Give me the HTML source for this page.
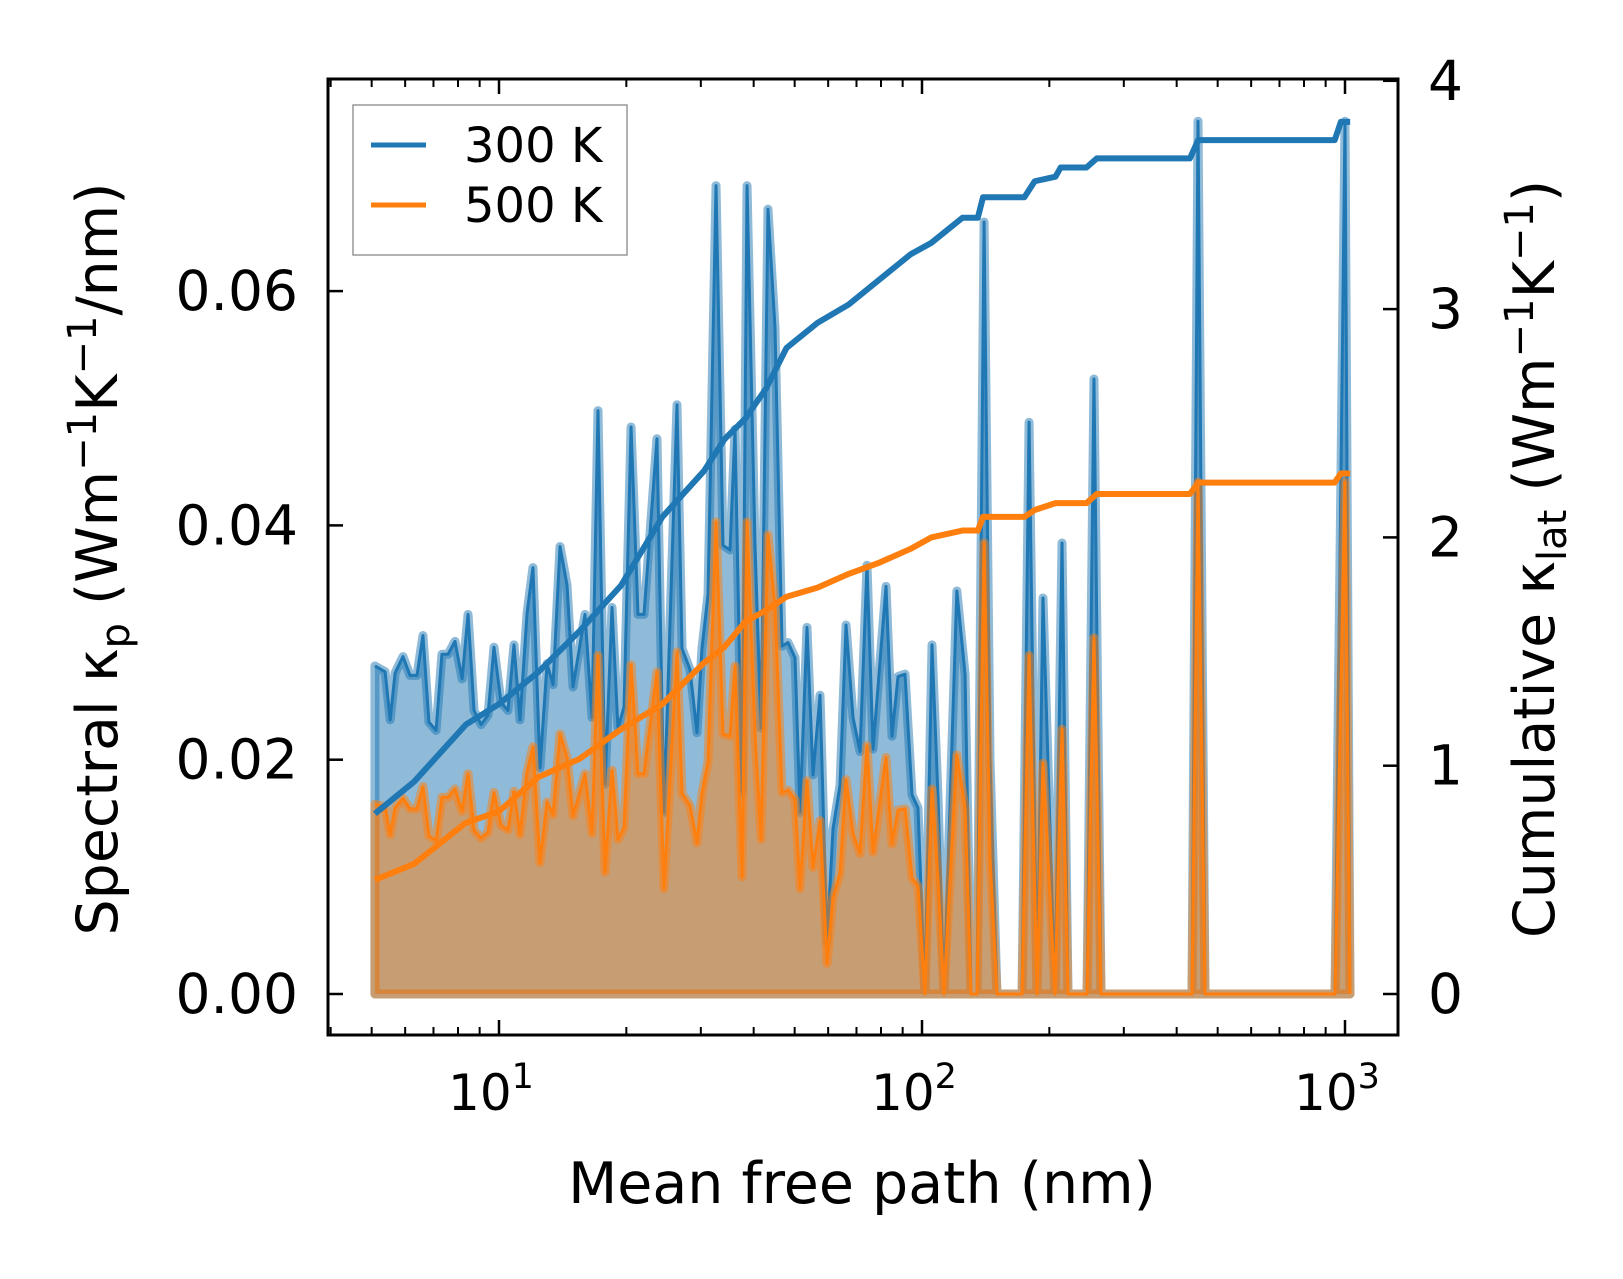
<!DOCTYPE html>
<html><head><meta charset="utf-8"><style>
body{margin:0;background:#fff;}
svg text{font-family:"DejaVu Sans","Liberation Sans",sans-serif;fill:#000;}
</style></head><body>
<svg id="chart" width="1623" height="1274" viewBox="0 0 1623 1274" xmlns="http://www.w3.org/2000/svg">
<g id="marks"></g>
<g id="axes"></g>
<g id="legend">
 <rect x="353" y="105" width="274" height="150" fill="#fff" fill-opacity="0.8" stroke="#999" stroke-width="1.5"/>
 <line x1="371" y1="145" x2="426" y2="145" stroke="#1f77b4" stroke-width="5"/>
 <text x="464" y="162" font-size="48">300 K</text>
 <line x1="371" y1="205" x2="426" y2="205" stroke="#ff7f0e" stroke-width="5"/>
 <text x="464" y="222" font-size="48">500 K</text>
</g>
<text x="862" y="1203" font-size="57" text-anchor="middle">Mean free path (nm)</text>
<text transform="translate(117,559) rotate(-90)" font-size="57" text-anchor="middle">Spectral κ<tspan font-size="40" dy="12">p</tspan><tspan dy="-12"> (Wm</tspan><tspan font-size="40" dy="-21">−1</tspan><tspan dy="21">K</tspan><tspan font-size="40" dy="-21">−1</tspan><tspan dy="21">/nm)</tspan></text>
<text transform="translate(1554,559) rotate(-90)" font-size="57" text-anchor="middle">Cumulative κ<tspan font-size="40" dy="12">lat</tspan><tspan dy="-12"> (Wm</tspan><tspan font-size="40" dy="-21">−1</tspan><tspan dy="21">K</tspan><tspan font-size="40" dy="-21">−1</tspan><tspan dy="21">)</tspan></text>
</svg>
<script>
const mfp = [5.09,5.38,5.53,5.68,5.93,6.16,6.40,6.61,6.83,7.10,7.33,7.58,7.87,8.18,8.45,8.73,9.07,9.42,9.73,10.11,10.50,10.85,11.21,11.65,12.03,12.50,12.99,13.42,13.94,14.48,14.96,15.97,16.59,17.14,17.81,18.50,19.11,19.75,20.52,21.31,22.02,23.63,24.55,26.35,27.08,28.28,29.38,30.19,31.20,32.59,33.85,35.17,36.14,37.54,38.58,40.29,41.64,43.24,44.92,46.67,48.22,50.10,51.48,53.47,55.25,57.40,59.63,61.61,64.00,66.13,68.70,71.36,74.13,76.61,82.21,84.94,87.77,91.17,94.71,97.84,101.6,105.6,109.1,112.7,120.9,126.4,130.6,134.9,140.2,144.8,150.4,172.4,179.1,187.1,193.2,206.3,214.3,221.4,245.5,255.0,265.0,434.8,449.3,466.7,947.1,1000,1027.6];
const spec300 = [.0280,.0275,.0234,.0274,.0288,.0272,.0272,.0306,.0232,.0225,.0290,.0290,.0301,.0269,.0324,.0242,.0230,.0238,.0296,.0249,.0242,.0298,.0234,.0325,.0364,.0193,.0282,.0264,.0382,.0349,.0262,.0324,.0236,.0498,.0179,.0330,.0227,.0245,.0484,.0324,.0324,.0474,.0155,.0503,.0295,.0277,.0223,.0295,.0341,.0690,.0383,.0379,.0482,.0172,.0690,.0383,.0227,.0670,.0569,.0297,.0300,.0287,.0155,.0313,.0187,.0255,.0044,.0141,.0178,.0315,.0236,.0207,.0366,.0209,.0348,.0220,.0271,.0273,.0170,.0159,0,.0298,.0168,0,.0344,.0273,0,0,.0659,.0200,0,0,.0488,0,.0338,0,.0385,0,0,.0525,0,0,.0745,0,0,.0745,0];
const spec500 = [.0162,.0160,.0136,.0159,.0167,.0158,.0158,.0177,.0135,.0131,.0168,.0168,.0175,.0156,.0188,.0140,.0133,.0138,.0172,.0144,.0140,.0173,.0136,.0189,.0211,.0112,.0164,.0153,.0222,.0202,.0152,.0188,.0137,.0289,.0104,.0191,.0132,.0142,.0281,.0188,.0188,.0275,.0090,.0292,.0171,.0161,.0129,.0171,.0198,.0403,.0222,.0220,.0280,.0100,.0403,.0222,.0132,.0392,.0330,.0172,.0174,.0166,.0090,.0182,.0108,.0148,.0026,.0082,.0103,.0183,.0137,.0120,.0212,.0121,.0202,.0128,.0157,.0158,.0099,.0092,0,.0175,.0097,0,.0204,.0158,0,0,.0385,.0116,0,0,.0289,0,.0197,0,.0226,0,0,.0304,0,0,.0437,0,0,.0437,0];
const cumMfp = [5.09,6.30,8.35,10,12.38,15.51,19.44,24.34,30.49,34.12,38.19,42.73,47.83,56.63,67.07,79.38,94.0,105.2,124.6,135.5,139.4,174.6,184.7,206.8,212.7,244.8,259.0,429.9,449.6,945.4,977.7,1028.5];
const cum300 = [0.79,0.93,1.18,1.27,1.41,1.59,1.79,2.09,2.29,2.43,2.52,2.65,2.83,2.94,3.02,3.13,3.24,3.29,3.40,3.40,3.49,3.49,3.56,3.58,3.62,3.62,3.66,3.66,3.74,3.74,3.82,3.82];
const cum500 = [0.50,0.57,0.75,0.80,0.95,1.03,1.16,1.27,1.45,1.52,1.63,1.68,1.74,1.78,1.84,1.89,1.95,2.00,2.03,2.03,2.09,2.09,2.12,2.15,2.15,2.15,2.19,2.19,2.24,2.24,2.28,2.28];
const leftTicks = [0, 0.02, 0.04, 0.06];
const leftTickLabels = ["0.00","0.02","0.04","0.06"];
const rightTicks = [0,1,2,3,4];
const xMajor = [10,100,1000];

const L=328,R=1398,T=79,B=1035;
const xs = v => 499 + 423*(Math.log10(v)-1);
const yl = v => 994 - v/0.02*234.3;
const yr = v => 994 - v*228.3;
const NS="http://www.w3.org/2000/svg";
function mk(tag, attrs, parent){const e=document.createElementNS(NS,tag);for(const k in attrs)e.setAttribute(k,attrs[k]);parent.appendChild(e);return e;}
const marks=document.getElementById('marks'), axes=document.getElementById('axes');

function area(vals,color,name){
  let d=`M${xs(mfp[0])},${yl(0)}`;
  mfp.forEach((m,i)=>{d+=`L${xs(m)},${yl(vals[i])}`;});
  d+=`L${xs(mfp[mfp.length-1])},${yl(0)}Z`;
  const p=mk('path',{d:d,fill:color,'fill-opacity':0.5,stroke:color,'stroke-opacity':0.5,'stroke-width':9,'stroke-linejoin':'round'},marks);
  
  
  const ln=mk('polyline',{points:mfp.map((m,i)=>xs(m)+','+yl(vals[i])).join(' '),fill:'none',stroke:color,'stroke-width':3,'stroke-linejoin':'round'},marks);
  
  
}
area(spec300,'#1f77b4','spectral-300k');
area(spec500,'#ff7f0e','spectral-500k');
function cum(vals,color,name){
  const ln=mk('polyline',{points:cumMfp.map((m,i)=>xs(m)+','+yr(vals[i])).join(' '),fill:'none',stroke:color,'stroke-width':6,'stroke-linejoin':'round'},marks);
  
  
}
cum(cum300,'#1f77b4','cumulative-300k');
cum(cum500,'#ff7f0e','cumulative-500k');

const fr=mk('rect',{x:L,y:T,width:R-L,height:B-T,fill:'none',stroke:'#000','stroke-width':3},axes);


leftTicks.forEach((v,i)=>{
  const y=yl(v);
  const t=mk('line',{x1:L,y1:y,x2:L+15,y2:y,stroke:'#000','stroke-width':2.5},axes);
  
  
  const tx=mk('text',{x:L-30,y:y+19,'font-size':55,'text-anchor':'end'},axes);
  tx.textContent=leftTickLabels[i];
  
  
});
rightTicks.forEach(v=>{
  const y=yr(v);
  const t=mk('line',{x1:R-15,y1:y,x2:R,y2:y,stroke:'#000','stroke-width':2.5},axes);
  
  
  const tx=mk('text',{x:R+30,y:y+19,'font-size':55},axes);
  tx.textContent=String(v);
  
  
});
for(let dec=1;dec<=1000;dec*=10){
  for(let k=1;k<10;k++){
    const v=dec*k; const x=xs(v);
    if(x<L+2||x>R-2) continue;
    const len=k===1?15:8;
    [[B,B-len],[T,T+len]].forEach(([a,b])=>{
      const t=mk('line',{x1:x,y1:a,x2:x,y2:b,stroke:'#000','stroke-width':k===1?2.5:2},axes);
      
      
    });
  }
}
xMajor.forEach(v=>{
  const x=xs(v);
  const tx=mk('text',{x:x-8,y:1110,'font-size':50,'text-anchor':'middle'},axes);
  tx.innerHTML='10<tspan font-size="35" dy="-22">'+Math.round(Math.log10(v))+'</tspan>';
  
  
});
</script>
</body></html>
